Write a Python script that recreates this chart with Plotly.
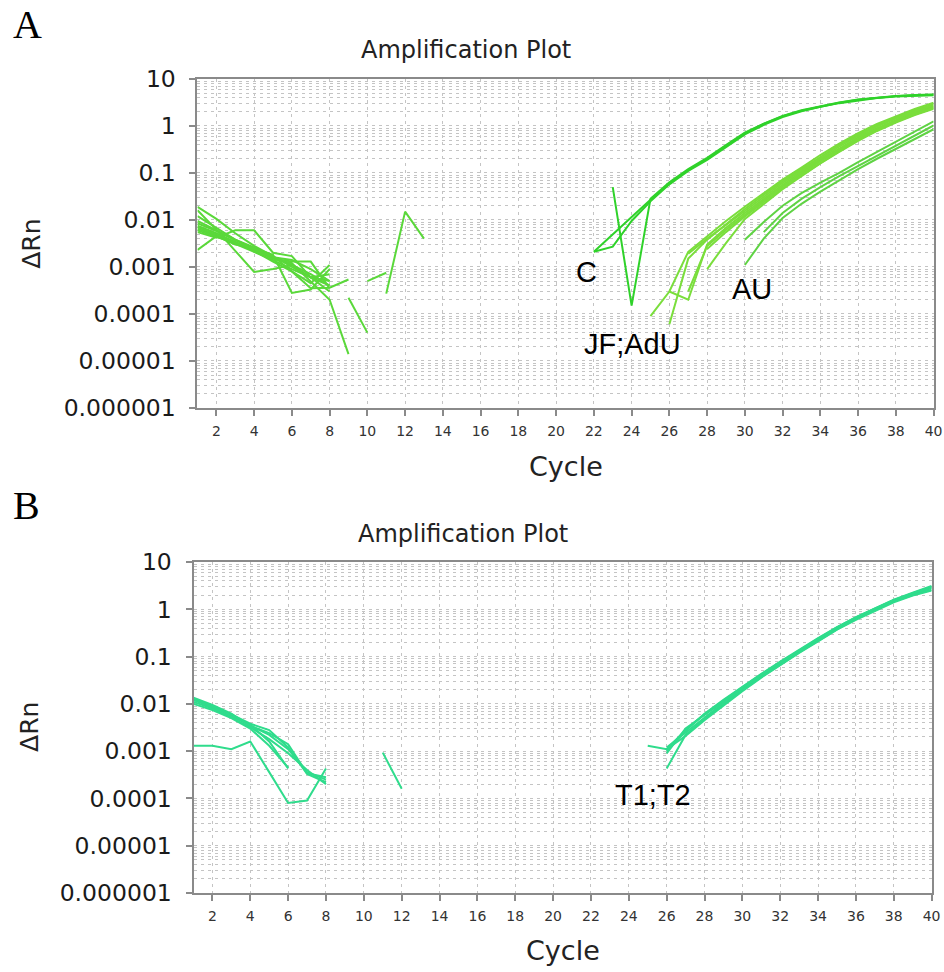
import plotly.graph_objects as go

# ---------------- DATA ----------------
# Panel A: baseline noise traces, cycles starting at 1
a_noise_1 = [0.0085, 0.0058, 0.0037, 0.0025, 0.0016, 0.0011, 0.0007, 0.0004]
a_noise_2 = [0.0065, 0.0046, 0.0031, 0.0021, 0.0014, 0.0009, 0.0006, 0.0005]
a_noise_3 = [0.0075, 0.0052, 0.0034, 0.0022, 0.0013, 0.0008, 0.00045, 0.0011]
a_noise_4 = [0.012, 0.0068, 0.0038, 0.0024, 0.0015, 0.0012, 0.0005, 0.0002, 0.000014]
a_noise_5 = [0.0055, 0.0042, 0.006, 0.006, 0.002, 0.0017, 0.0006, 0.0004]
a_noise_6 = [0.016, 0.0062, 0.0022, 0.00078, 0.0009, 0.0011, 0.0006, 0.0003]
a_noise_7 = [0.0023, 0.0045, 0.003, 0.0025, 0.0018, 0.00028, 0.00033, 0.0009]
a_noise_8 = [0.019, 0.0105, 0.0052, 0.0028, 0.0017, 0.0008, 0.00035, 0.00036, 0.00054]
a_noise_9 = [0.006, 0.0044, 0.0032, 0.0023, 0.0015, 0.0013, 0.0013, 0.00035]
a_noise_10 = [0.0095, 0.006, 0.0038, 0.0026, 0.0017, 0.001, 0.0006, 0.0007]
a_noise_11 = [0.007, 0.0048, 0.0033, 0.0024, 0.0016, 0.0014, 0.0009, 0.0005]
# Panel A: fragments (start cycle, values)
a_frag_1_start, a_frag_1 = 9, [0.00022, 0.00004]
a_frag_2_start, a_frag_2 = 10, [0.0005, 0.00075]
a_frag_3_start, a_frag_3 = 11, [0.00027, 0.015, 0.004]
# Panel A: "C" group
a_c_1_start, a_c_1 = 22, [0.0021, 0.0048, 0.0115, 0.027, 0.06, 0.115, 0.2, 0.38, 0.7, 1.1,
                          1.6, 2.1, 2.6, 3.1, 3.6, 4.0, 4.3, 4.5, 4.6]
a_c_2_start, a_c_2 = 22, [0.0021, 0.0027, 0.0095, 0.025, 0.057, 0.11, 0.19, 0.36, 0.66, 1.05,
                          1.55, 2.05, 2.55, 3.05, 3.5, 3.9, 4.2, 4.4, 4.5]
a_c_3_start, a_c_3 = 23, [0.05, 0.00015, 0.028, 0.063, 0.12, 0.21, 0.39, 0.72, 1.12, 1.62,
                          2.15, 2.65, 3.15, 3.65, 4.05, 4.35, 4.55, 4.65]
# Panel A: "JF;AdU" bundle
a_b_1_start, a_b_1 = 25, [0.00009, 0.0003, 0.0021, 0.0045, 0.0095, 0.019, 0.037, 0.072, 0.13,
                          0.24, 0.42, 0.7, 1.1, 1.6, 2.3, 3.1]
a_b_2_start, a_b_2 = 26, [0.00006, 0.0015, 0.0038, 0.0082, 0.017, 0.034, 0.066, 0.12, 0.22,
                          0.39, 0.65, 1.02, 1.5, 2.15, 2.9]
a_b_3_start, a_b_3 = 26, [0.0003, 0.0002, 0.003, 0.0068, 0.014, 0.028, 0.056, 0.104, 0.19,
                          0.33, 0.57, 0.9, 1.35, 1.95, 2.6]
a_b_4_start, a_b_4 = 27, [0.0019, 0.004, 0.0078, 0.0155, 0.031, 0.061, 0.112, 0.205, 0.36,
                          0.61, 0.97, 1.43, 2.05, 2.75]
a_b_5_start, a_b_5 = 27, [0.0003, 0.0028, 0.0062, 0.0128, 0.026, 0.052, 0.097, 0.178, 0.31,
                          0.53, 0.85, 1.28, 1.85, 2.5]
a_b_6_start, a_b_6 = 28, [0.0009, 0.0032, 0.0105, 0.022, 0.045, 0.085, 0.16, 0.28, 0.48,
                          0.78, 1.18, 1.7, 2.3]
a_b_7_start, a_b_7 = 28, [0.0024, 0.0055, 0.0118, 0.024, 0.048, 0.09, 0.165, 0.29, 0.5,
                          0.8, 1.22, 1.75, 2.4]
# Panel A: "AU" group
a_au_1_start, a_au_1 = 30, [0.0038, 0.009, 0.02, 0.037, 0.062, 0.1, 0.17, 0.28, 0.45, 0.75, 1.25]
a_au_2_start, a_au_2 = 30, [0.0011, 0.004, 0.011, 0.022, 0.04, 0.07, 0.12, 0.2, 0.32, 0.52, 0.85]
a_au_3_start, a_au_3 = 31, [0.0055, 0.014, 0.028, 0.05, 0.085, 0.14, 0.23, 0.38, 0.62, 1.02]

# Panel B: baseline noise traces, cycles starting at 1
b_noise_1 = [0.013, 0.009, 0.006, 0.0038, 0.0028, 0.0012, 0.00033, 0.00022]
b_noise_2 = [0.012, 0.0085, 0.0056, 0.0035, 0.0022, 0.0011, 0.00036, 0.00025]
b_noise_3 = [0.011, 0.008, 0.0052, 0.0032, 0.0018, 0.0009, 0.0004, 0.0002]
b_noise_4 = [0.0125, 0.0088, 0.0058, 0.0036, 0.0016, 0.00043]
b_noise_5 = [0.01, 0.0074, 0.005, 0.003, 0.0013, 0.00045]
b_noise_6 = [0.0013, 0.0013, 0.0011, 0.0016, 0.00036, 0.00008, 0.00009, 0.00043]
b_noise_7 = [0.0135, 0.0095, 0.0062, 0.0034, 0.0024, 0.0014, 0.00034, 0.00028]
b_frag_1_start, b_frag_1 = 11, [0.00093, 0.00016]
# Panel B: "T1;T2" bundle
b_t_1_start, b_t_1 = 25, [0.0013, 0.0011, 0.0028, 0.0062, 0.0122, 0.023, 0.043, 0.078, 0.14,
                          0.245, 0.42, 0.68, 1.05, 1.6, 2.25, 3.1]
b_t_2_start, b_t_2 = 26, [0.00043, 0.0022, 0.0048, 0.0098, 0.0195, 0.037, 0.068, 0.122, 0.215,
                          0.375, 0.62, 0.96, 1.45, 2.0, 2.6]
b_t_3_start, b_t_3 = 26, [0.0012, 0.0025, 0.0052, 0.0105, 0.02, 0.038, 0.07, 0.127, 0.225,
                          0.39, 0.64, 0.99, 1.5, 2.1, 2.8]
b_t_4_start, b_t_4 = 26, [0.0009, 0.003, 0.0058, 0.0112, 0.0215, 0.041, 0.074, 0.133, 0.235,
                          0.41, 0.665, 1.02, 1.55, 2.15, 2.9]
b_t_5_start, b_t_5 = 26, [0.0011, 0.0021, 0.0045, 0.0092, 0.0185, 0.036, 0.067, 0.12, 0.21,
                          0.37, 0.6, 0.93, 1.4, 1.95, 2.5]
b_t_6_start, b_t_6 = 26, [0.001, 0.0027, 0.0061, 0.0118, 0.0225, 0.042, 0.076, 0.136, 0.24,
                          0.415, 0.67, 1.03, 1.55, 2.2, 3.0]

y_tick_vals = [1e-6, 1e-5, 1e-4, 1e-3, 1e-2, 1e-1, 1, 10]
y_tick_text = ["0.000001", "0.00001", "0.0001", "0.001", "0.01", "0.1", "1", "10"]
x_tick_vals = list(range(2, 41, 2))

# ---------------- FIGURE ----------------
W, H = 944, 972
# compensation for how the captured picture maps page pixels
SX = 0.993
SY, CY = 0.977, 466.0

fig = go.Figure()

COL_A_NOISE = "#5ad83a"
COL_A_C = "#2fd22a"
COL_A_B = "#7ade3c"
COL_A_AU = "#5fd344"
COL_B = "#2fdc8c"
LW = 2


def add(vals, start, color, xa, ya):
    xs = [start + i for i in range(len(vals))]
    fig.add_trace(go.Scatter(x=xs, y=vals, mode="lines", xaxis=xa, yaxis=ya,
                             line=dict(color=color, width=LW), showlegend=False,
                             hoverinfo="skip"))


for v in [a_noise_1, a_noise_2, a_noise_3, a_noise_4, a_noise_5, a_noise_6,
          a_noise_7, a_noise_8, a_noise_9, a_noise_10, a_noise_11]:
    add(v, 1, COL_A_NOISE, "x", "y")
for s, v in [(a_frag_1_start, a_frag_1), (a_frag_2_start, a_frag_2), (a_frag_3_start, a_frag_3)]:
    add(v, s, COL_A_NOISE, "x", "y")
for s, v in [(a_b_1_start, a_b_1), (a_b_2_start, a_b_2), (a_b_3_start, a_b_3),
             (a_b_4_start, a_b_4), (a_b_5_start, a_b_5), (a_b_6_start, a_b_6),
             (a_b_7_start, a_b_7)]:
    add(v, s, COL_A_B, "x", "y")
for s, v in [(a_au_1_start, a_au_1), (a_au_2_start, a_au_2), (a_au_3_start, a_au_3)]:
    add(v, s, COL_A_AU, "x", "y")
for s, v in [(a_c_1_start, a_c_1), (a_c_2_start, a_c_2), (a_c_3_start, a_c_3)]:
    add(v, s, COL_A_C, "x", "y")

for v in [b_noise_1, b_noise_2, b_noise_3, b_noise_4, b_noise_5, b_noise_6, b_noise_7]:
    add(v, 1, COL_B, "x2", "y2")
add(b_frag_1, b_frag_1_start, COL_B, "x2", "y2")
for s, v in [(b_t_1_start, b_t_1), (b_t_2_start, b_t_2), (b_t_3_start, b_t_3),
             (b_t_4_start, b_t_4), (b_t_5_start, b_t_5), (b_t_6_start, b_t_6)]:
    add(v, s, COL_B, "x2", "y2")

GRID = "#c4c4c4"
AXC = "#8a8a8a"
minor_vals = [m * 10 ** k for k in range(-6, 1) for m in range(2, 10)]


def xaxis(domain, anchor):
    return dict(domain=domain, anchor=anchor, range=[1, 40], tickmode="array",
                tickvals=x_tick_vals, ticks="outside", ticklen=6, tickcolor=AXC,
                tickwidth=1.5, showline=True, linecolor=AXC, linewidth=2, mirror=True,
                showgrid=True, gridcolor=GRID, gridwidth=1, griddash="3px,4px",
                zeroline=False, ticklabelstandoff=3, ticklabeloverflow="allow",
                tickfont=dict(family="DejaVu Sans", size=14, color="#333333"))


def yaxis(domain, anchor):
    return dict(domain=domain, anchor=anchor, type="log", range=[-6, 1], tickmode="array",
                tickvals=y_tick_vals, ticktext=y_tick_text, ticks="outside", ticklen=6,
                tickcolor=AXC, tickwidth=1.5, showline=True, linecolor=AXC, linewidth=2,
                mirror=True, showgrid=True, gridcolor=GRID, gridwidth=1,
                griddash="3px,4px", zeroline=False, ticklabelstandoff=9,
                ticklabeloverflow="allow",
                minor=dict(tickvals=minor_vals, showgrid=True, gridcolor=GRID,
                           gridwidth=1, griddash="3px,4px", ticks=""),
                tickfont=dict(family="DejaVu Sans", size=23.5, color="#1a1a1a"))


def px(xt):
    return (xt / SX) / W


def py(yt):
    return 1 - (CY + (yt - CY) / SY) / H


fig.update_layout(
    width=W, height=H, margin=dict(l=0, r=0, t=0, b=0),
    paper_bgcolor="white", plot_bgcolor="white",
    xaxis=xaxis([px(198), px(936)], "y"),
    yaxis=yaxis([py(407), py(76)], "x"),
    xaxis2=xaxis([px(194), px(934)], "y2"),
    yaxis2=yaxis([py(895), py(562)], "x2"),
)

ann = []


def text(x, y, s, size, family="DejaVu Sans", xanchor="center", yanchor="middle",
         xref="paper", yref="paper", angle=0, color="#222222"):
    ann.append(dict(x=x, y=y, text=s, showarrow=False, xref=xref, yref=yref,
                    xanchor=xanchor, yanchor=yanchor, textangle=angle,
                    font=dict(family=family, size=size, color=color)))


# panel letters
text(px(11), py(21), "A", 40, family="Liberation Serif", xanchor="left", color="black")
text(px(11), py(505), "B", 40, family="Liberation Serif", xanchor="left", color="black")
# titles
text(px(467), py(47), "Amplification Plot", 24)
text(px(464), py(534), "Amplification Plot", 24)
# axis titles
text(px(567), py(466), "Cycle", 27)
text(px(564), py(953), "Cycle", 27)
text(px(32), py(242), "ΔRn", 25, angle=-90)
text(px(29), py(728), "ΔRn", 25, angle=-90)
# curve labels (data coordinates)
text(21.6, -3.1, "C", 29, family="Liberation Sans", xref="x", yref="y", color="black")
text(24.05, -4.64, "JF;AdU", 29, family="Liberation Sans", xref="x", yref="y", color="black")
text(30.4, -3.46, "AU", 29, family="Liberation Sans", xref="x", yref="y", color="black")
text(25.3, -3.92, "T1;T2", 29, family="Liberation Sans", xref="x2", yref="y2", color="black")

fig.update_layout(annotations=ann)
ps = ("document.body.style.margin='0';document.body.style.overflow='hidden';"
      "document.documentElement.style.overflow='hidden';")
fig.write_html("out.html", config={"displayModeBar": False}, post_script=ps)
